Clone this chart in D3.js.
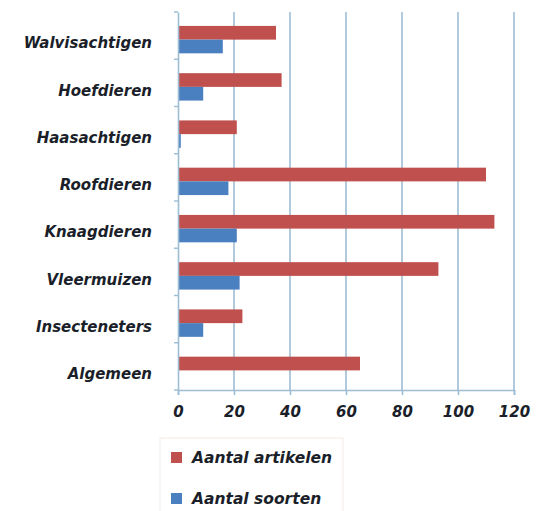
<!DOCTYPE html>
<html>
<head>
<meta charset="utf-8">
<script src="https://cdn.jsdelivr.net/npm/d3@7"></script>
<style>
  html, body { margin: 0; padding: 0; background: #fff; }
  svg { display: block; }
  text { font-family: "DejaVu Sans", sans-serif; font-weight: bold; font-style: italic; fill: #1b1f2a; }
</style>
</head>
<body>
<svg id="chart" width="544" height="511"></svg>
<script>
const categories = ["Walvisachtigen", "Hoefdieren", "Haasachtigen", "Roofdieren", "Knaagdieren", "Vleermuizen", "Insecteneters", "Algemeen"];
const artikelen = [35, 37, 21, 110, 113, 93, 23, 65];
const soorten = [16, 9, 1, 18, 21, 22, 9, 0];
const seriesNames = ["Aantal artikelen", "Aantal soorten"];
const seriesColors = ["#C0504D", "#4A7FC0"];
const xTicks = [0, 20, 40, 60, 80, 100, 120];

(function () {
const svg = d3.select("#chart");
const mLeft = 178, mRight = 514, mTop = 12, mBottom = 390;

const x = d3.scaleLinear().domain([0, 120]).range([mLeft, mRight]);
const y = d3.scaleBand().domain(categories).range([mTop, mBottom]).paddingInner(0.42).paddingOuter(0.21);
const inner = d3.scaleBand().domain([0, 1]).range([0, y.bandwidth()]);

const gridColor = "#9dbdd3";

svg.append("g").selectAll("line").data(xTicks.slice(1)).join("line")
  .attr("x1", d => x(d)).attr("x2", d => x(d))
  .attr("y1", mTop).attr("y2", mBottom)
  .attr("stroke", gridColor).attr("stroke-width", 1.6);

const data = [artikelen, soorten];
const barOffset = 4;
data.forEach((vals, si) => {
  svg.append("g").selectAll("rect").data(categories).join("rect")
    .attr("x", x(0))
    .attr("y", (c) => y(c) + inner(si) + barOffset)
    .attr("width", (c, i) => x(vals[i]) - x(0))
    .attr("height", inner.bandwidth())
    .attr("fill", seriesColors[si]);
});

const xAxis = svg.append("g").attr("transform", `translate(0,${mBottom})`)
  .call(d3.axisBottom(x).tickValues(xTicks).tickSize(5).tickPadding(11).tickFormat(d3.format("d")));
xAxis.select(".domain").attr("stroke", gridColor).attr("stroke-width", 1.6);
xAxis.selectAll(".tick line").attr("stroke", gridColor).attr("stroke-width", 1.6);
xAxis.selectAll(".tick text").attr("font-size", 15).attr("fill", "#1b1f2a")
  .attr("font-family", "DejaVu Sans").attr("font-weight", "bold").attr("font-style", "italic");

const yAxis = svg.append("g").attr("transform", `translate(${mLeft},0)`)
  .call(d3.axisLeft(y).tickSize(0).tickPadding(26));
yAxis.select(".domain").attr("stroke", gridColor).attr("stroke-width", 1.6);
yAxis.selectAll(".tick text").attr("font-size", 15).attr("fill", "#1b1f2a")
  .attr("dy", "0.85em")
  .attr("font-family", "DejaVu Sans").attr("font-weight", "bold").attr("font-style", "italic");

const bounds = d3.range(categories.length + 1).map(i => mTop + i * (mBottom - mTop) / categories.length);
svg.append("g").selectAll("line").data(bounds).join("line")
  .attr("x1", mLeft - 4).attr("x2", mLeft)
  .attr("y1", d => d).attr("y2", d => d)
  .attr("stroke", gridColor).attr("stroke-width", 1.4);

const legend = svg.append("g");
legend.append("rect").attr("x", 160).attr("y", 438).attr("width", 183).attr("height", 80)
  .attr("fill", "none").attr("stroke", "#f3ebe8").attr("stroke-width", 1);
seriesNames.forEach((name, i) => {
  const gy = 458 + i * 41;
  legend.append("rect").attr("x", 171).attr("y", gy - 6).attr("width", 11).attr("height", 11)
    .attr("fill", seriesColors[i]);
  legend.append("text").attr("x", 192).attr("y", gy).attr("dy", "0.35em")
    .attr("font-size", 15.5).text(name);
});
})();
</script>
</body>
</html>
